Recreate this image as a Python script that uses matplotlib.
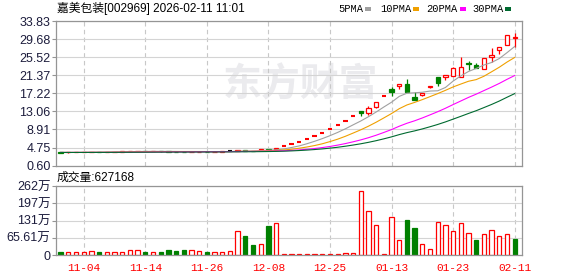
import matplotlib
matplotlib.use('Agg')
import matplotlib.pyplot as plt
from matplotlib.patches import Rectangle
import numpy as np

title = "嘉美包装[002969] 2026-02-11 11:01"
date_labels = ['11-04', '11-14', '11-26', '12-08', '12-25', '01-13', '01-23', '02-11']
date_label_idx = [3, 11, 19, 27, 35, 43, 51, 59]
price_ticks = [0.60, 4.75, 8.91, 13.06, 17.22, 21.37, 25.52, 29.68, 33.83]
price_tick_labels = ['0.60', '4.75', '8.91', '13.06', '17.22', '21.37', '25.52', '29.68', '33.83']
vol_ticks = [0, 65.61, 131.22, 196.83, 262.44]
vol_tick_labels = ['0', '65.61万', '131万', '197万', '262万']
ma_periods = [5, 10, 20, 30]
ma_names = ['5PMA', '10PMA', '20PMA', '30PMA']
latest_volume = 627168

# closes before the first shown bar (needed for the moving averages)
history_close = [3.58, 3.60, 3.61, 3.59, 3.62, 3.63, 3.61, 3.60, 3.62, 3.64,
                 3.63, 3.61, 3.60, 3.62, 3.63, 3.65, 3.64, 3.62, 3.61, 3.63,
                 3.64, 3.62, 3.60, 3.61, 3.63, 3.64, 3.63, 3.62, 3.61]

opens = [3.63, 3.62, 3.64, 3.66, 3.68, 3.72, 3.70, 3.74, 3.80, 3.86,
         3.87, 3.89, 3.86, 3.88, 3.85, 3.82, 3.80, 3.76, 3.79, 3.82,
         3.80, 3.82, 3.88, 4.04, 4.09, 4.02, 4.29, 4.30, 4.52, 5.06,
         5.57, 6.13, 6.74, 7.41, 8.15, 8.97, 9.87, 10.86, 11.95, 13.15,
         12.75, 13.99, 16.63, 18.15, 18.96, 19.35, 16.43, 16.75, 18.65, 20.89,
         20.96, 21.26, 21.03, 24.24, 23.65, 22.73, 25.48, 27.16, 28.24, 29.85]
highs = [3.64, 3.65, 3.67, 3.69, 3.74, 3.73, 3.74, 3.82, 3.88, 3.89,
         3.92, 3.90, 3.89, 3.88, 3.86, 3.83, 3.81, 3.80, 3.83, 3.83,
         3.83, 3.89, 3.90, 4.14, 4.12, 4.05, 4.31, 4.33, 4.62, 5.06,
         5.57, 6.13, 6.74, 7.41, 8.15, 8.97, 9.87, 10.86, 11.95, 13.15,
         14.25, 15.30, 16.63, 18.55, 19.28, 20.50, 17.51, 17.30, 18.80, 20.92,
         21.35, 23.15, 25.62, 24.70, 24.11, 25.30, 27.62, 27.80, 30.65, 31.14]
lows = [3.60, 3.61, 3.63, 3.65, 3.67, 3.69, 3.69, 3.73, 3.79, 3.84,
        3.86, 3.85, 3.85, 3.84, 3.81, 3.79, 3.75, 3.75, 3.78, 3.79,
        3.79, 3.81, 3.86, 4.00, 4.03, 3.90, 4.28, 4.22, 4.50, 5.06,
        5.57, 6.13, 6.74, 7.41, 8.15, 8.97, 9.87, 10.86, 11.95, 12.04,
        12.34, 13.95, 16.63, 16.66, 18.20, 17.55, 15.70, 16.70, 18.36, 18.96,
        20.27, 21.20, 21.00, 22.57, 23.05, 22.70, 24.47, 26.18, 28.20, 27.92]
closes = [3.60, 3.64, 3.66, 3.68, 3.72, 3.70, 3.73, 3.80, 3.86, 3.87,
          3.90, 3.86, 3.88, 3.85, 3.82, 3.80, 3.76, 3.79, 3.82, 3.80,
          3.82, 3.88, 3.88, 4.10, 4.06, 3.92, 4.31, 4.25, 4.60, 5.06,
          5.57, 6.13, 6.74, 7.41, 8.15, 8.97, 9.87, 10.86, 11.95, 12.60,
          13.90, 15.26, 16.63, 17.46, 19.28, 17.58, 15.72, 17.28, 18.80, 19.58,
          21.35, 23.10, 23.25, 23.88, 23.09, 25.26, 26.01, 27.78, 30.61, 30.20]
# volume in 万 (10k shares)
volumes = [12.7, 10, 10, 10, 15, 12.7, 10, 10, 10, 18,
           18, 12.7, 10, 12.7, 19, 15, 19, 18, 14, 11,
           10, 10, 14, 91, 72, 38, 42, 112, 121, 3,
           3, 3, 3, 3, 3, 3, 3, 8.8, 8.8, 244,
           168, 114, 4, 144, 57, 133, 104, 42, 23, 126,
           114, 92, 121, 83, 57, 80, 95, 72, 80, 62.7]

RED = '#ff0000'
GREEN = '#008000'
MA_COLORS = ['#a0a0a0', '#f0a000', '#ff00ff', '#006a30']
GRID = '#d4d4d4'
SPINE = '#959595'
LABEL = '#1c1c3c'
CJK = ['Liberation Sans', 'Noto Sans CJK SC']

W, H = 578, 276
fig = plt.figure(figsize=(W / 100, H / 100), dpi=100)
fig.patch.set_facecolor('white')

L, R = 56, 522
ax1 = fig.add_axes([L / W, 1 - 165.6 / H, (R - L) / W, (165.6 - 21) / H])
ax2 = fig.add_axes([L / W, 1 - 255 / H, (R - L) / W, (255 - 186) / H])

n = len(closes)
x = np.arange(n)
xlim = (-0.6, 59.95)

for ax in (ax1, ax2):
    ax.set_xlim(*xlim)
    for s in ax.spines.values():
        s.set_color(SPINE)
        s.set_linewidth(0.9)
    ax.set_xticks(date_label_idx)
    ax.set_axisbelow(True)
    ax.grid(axis='x', color='#c8c8c8', linestyle=(0, (4, 3)), linewidth=0.8)
    ax.grid(axis='y', color=GRID, linestyle='-', linewidth=0.8)
    ax.tick_params(axis='y', direction='out', length=3, width=0.8, color=SPINE,
                   labelcolor=LABEL, labelsize=9, pad=1)
    ax.tick_params(axis='x', length=0)

# ---------- price panel ----------
ax1.set_ylim(price_ticks[0], price_ticks[-1])
ax1.set_yticks(price_ticks)
ax1.set_yticklabels(price_tick_labels, family='Liberation Sans')
ax1.set_xticklabels([])

ax1.text(0.525, 0.56, '东方财富', transform=ax1.transAxes, ha='center', va='center',
         fontsize=28, fontweight='bold', color='#ebebee', family='Noto Sans CJK SC', zorder=0.1)

w = 0.56
full = history_close + closes
for i in range(n):
    o, h, l, c = opens[i], highs[i], lows[i], closes[i]
    prev = full[len(history_close) + i - 1]
    if c > o:
        col = RED
    elif c < o:
        col = GREEN
    else:
        col = RED if c > prev else (GREEN if c < prev else '#000000')
    if c != o:
        lo, hi = min(o, c), max(o, c)
        if h > hi:
            ax1.vlines(i, hi, h, color=col, lw=0.9, zorder=2)
        if l < lo:
            ax1.vlines(i, l, lo, color=col, lw=0.9, zorder=2)
        fc = 'white' if c > o else col
        ax1.add_patch(Rectangle((i - w / 2, lo), w, hi - lo, facecolor=fc,
                                edgecolor=col, lw=0.9, zorder=2))
    else:
        if h > l:
            ax1.vlines(i, l, h, color=col, lw=0.9, zorder=2)
        ax1.hlines(c, i - w / 2, i + w / 2, color=col, lw=1.5, zorder=2)

off = len(history_close)
for p, colr in zip(ma_periods, MA_COLORS):
    ma = [np.mean(full[off + i - p + 1: off + i + 1]) for i in range(n)]
    ax1.plot(x, ma, color=colr, lw=0.8, zorder=3)

# ---------- volume panel ----------
ax2.set_ylim(vol_ticks[0], vol_ticks[-1])
ax2.set_yticks(vol_ticks)
ax2.set_yticklabels(vol_tick_labels, family=CJK)
ax2.set_xticklabels(date_labels, color=RED, family='Liberation Mono', fontsize=8)
ax2.tick_params(axis='x', pad=6)

for i in range(n):
    prev = full[off + i - 1]
    up = closes[i] >= prev
    if up:
        ax2.add_patch(Rectangle((i - w / 2, 0), w, volumes[i], facecolor='white',
                                edgecolor=RED, lw=0.9, zorder=2))
    else:
        ax2.add_patch(Rectangle((i - w / 2, 0), w, volumes[i], facecolor=GREEN,
                                edgecolor=GREEN, lw=0.9, zorder=2))

# ---------- texts ----------
fig.text(57 / W, 1 - 8 / H, title, ha='left', va='center', fontsize=8.5,
         family=CJK, color='#000000')
fig.text(57 / W, 1 - 178 / H, '成交量:%d' % latest_volume, ha='left', va='center',
         fontsize=8.5, family=CJK, color='#000000')

leg_x = [338, 380, 426, 472]
sq_x = [365, 413, 460, 505]
for name, tx, sx, colr in zip(ma_names, leg_x, sq_x, MA_COLORS):
    fig.text(tx / W, 1 - 8.5 / H, name, ha='left', va='center', fontsize=7.5,
             family='Liberation Mono', color='#000000')
    fig.add_artist(Rectangle((sx / W, 1 - 11 / H), 6 / W, 4 / H, facecolor=colr,
                             edgecolor='none', transform=fig.transFigure))

fig.savefig('out.png', dpi=100, facecolor='white')
